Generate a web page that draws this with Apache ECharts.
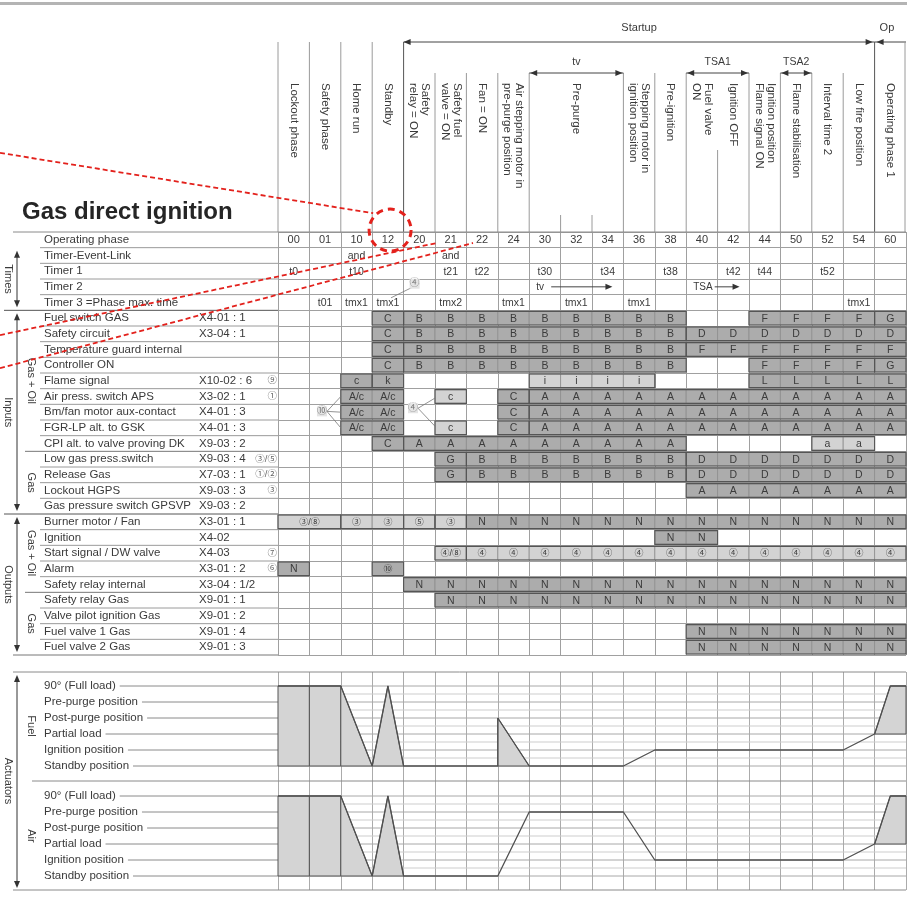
<!DOCTYPE html>
<html>
<head>
<meta charset="utf-8">
<title>Gas direct ignition</title>
<script src="https://cdn.jsdelivr.net/npm/echarts@6.0.0/dist/echarts.min.js"></script>
<style>
  html, body { margin: 0; padding: 0; background: #fff; }
  #chart4 { width: 907px; height: 900px; }
</style>
</head>
<body>
<div id="chart4"></div>
<script>
/* Phase diagram: gas direct ignition */

var FONT = '"Liberation Sans", Arial, "Noto Sans CJK SC", sans-serif';
var TXT = '#3a3a3a';

// columns = operating phases
var phases = ['00', '01', '10', '12', '20', '21', '22', '24', '30', '32', '34', '36', '38', '40', '42', '44', '50', '52', '54', '60'];

// [from col, to col, header text]
var phaseTitles = [
    [0, 1, 'Lockout phase'],
    [1, 2, 'Safety phase'],
    [2, 3, 'Home run'],
    [3, 4, 'Standby'],
    [4, 5, 'Safety\nrelay = ON'],
    [5, 6, 'Safety fuel\nvalve = ON'],
    [6, 7, 'Fan = ON'],
    [7, 8, 'Air stepping motor in\npre-purge position'],
    [8, 11, 'Pre-purge'],
    [11, 12, 'Stepping motor in\nignition position'],
    [12, 13, 'Pre-ignition'],
    [13, 14, 'Fuel valve\nON'],
    [14, 15, 'Ignition OFF'],
    [15, 16, 'Ignition position\nFlame signal ON'],
    [16, 17, 'Flame stabilisation'],
    [17, 18, 'Interval time 2'],
    [18, 19, 'Low fire position'],
    [19, 20, 'Operating phase 1']
];

// time spans above the headers [from col, to col, label]
var phaseSpans = [[8, 11, 'tv'], [13, 15, 'TSA1'], [16, 17, 'TSA2']];

var rowNames = ['Operating phase', 'Timer-Event-Link', 'Timer 1', 'Timer 2', 'Timer 3 =Phase max. time',
    'Fuel switch GAS', 'Safety circuit', 'Temperature guard internal', 'Controller ON', 'Flame signal',
    'Air press. switch APS', 'Bm/fan motor aux-contact', 'FGR-LP alt. to GSK', 'CPI alt. to valve proving DK',
    'Low gas press.switch', 'Release Gas', 'Lockout HGPS', 'Gas pressure switch GPSVP',
    'Burner motor / Fan', 'Ignition', 'Start signal / DW valve', 'Alarm', 'Safety relay internal',
    'Safety relay Gas', 'Valve pilot ignition Gas', 'Fuel valve 1 Gas', 'Fuel valve 2 Gas'];
var rowCodes = ['', '', '', '', '', 'X4-01 : 1', 'X3-04 : 1', '', '', 'X10-02 : 6', 'X3-02 : 1', 'X4-01 : 3',
    'X4-01 : 3', 'X9-03 : 2', 'X9-03 : 4', 'X7-03 : 1', 'X9-03 : 3', 'X9-03 : 2', 'X3-01 : 1', 'X4-02',
    'X4-03', 'X3-01 : 2', 'X3-04 : 1/2', 'X9-01 : 1', 'X9-01 : 2', 'X9-01 : 4', 'X9-01 : 3'];
var rowNotes = ['', '', '', '', '', '', '', '', '', '⑨', '①', '', '', '', '③/⑤', '①/②', '③', '',
    '', '', '⑦', '⑥', '', '', '', '', ''];

// [row from, row to, label, inner?]
var sections = [[1, 5, 'Times', 0], [5, 18, 'Inputs', 0], [5, 14, 'Gas + Oil', 1], [14, 18, 'Gas', 1],
    [18, 27, 'Outputs', 0], [18, 23, 'Gas + Oil', 1], [23, 27, 'Gas', 1]];

// timer rows [col, text]
var timerLink = [[2, 'and'], [5, 'and']];
var timer1 = [[0, 't0'], [2, 't10'], [5, 't21'], [6, 't22'], [8, 't30'], [10, 't34'], [12, 't38'], [14, 't42'], [15, 't44'], [17, 't52']];
var timer3 = [[1, 't01'], [2, 'tmx1'], [3, 'tmx1'], [5, 'tmx2'], [7, 'tmx1'], [9, 'tmx1'], [11, 'tmx1'], [18, 'tmx1']];
var timer2 = [[8, 10.65, 'tv'], [13, 14.7, 'TSA']];

// circled references with leader lines [col, row, text, targets]
var leaders = [
    [1.4, 11.45, '⑩', [[2, 10.5], [2, 11.5], [2, 12.5]]],
    [4.3, 11.25, '④', [[5, 10.6], [5, 12.4]]],
    [4.35, 3.3, '④', [[3.6, 4.2]]]
];

// signal states from row 5 on: [from col, to col, text, light shade, merged]
var signals = [
    [[3, 3, 'C', 0], [4, 12, 'B', 0], [15, 18, 'F', 0], [19, 19, 'G', 0]],
    [[3, 3, 'C', 0], [4, 12, 'B', 0], [13, 19, 'D', 0]],
    [[3, 3, 'C', 0], [4, 12, 'B', 0], [13, 19, 'F', 0]],
    [[3, 3, 'C', 0], [4, 12, 'B', 0], [15, 18, 'F', 0], [19, 19, 'G', 0]],
    [[2, 2, 'c', 0], [3, 3, 'k', 0], [8, 11, 'i', 1], [15, 19, 'L', 0]],
    [[2, 3, 'A/c', 0], [5, 5, 'c', 1], [7, 7, 'C', 0], [8, 19, 'A', 0]],
    [[2, 3, 'A/c', 0], [7, 7, 'C', 0], [8, 19, 'A', 0]],
    [[2, 3, 'A/c', 0], [5, 5, 'c', 1], [7, 7, 'C', 0], [8, 19, 'A', 0]],
    [[3, 3, 'C', 0], [4, 12, 'A', 0], [17, 18, 'a', 1]],
    [[5, 5, 'G', 0], [6, 12, 'B', 0], [13, 19, 'D', 0]],
    [[5, 5, 'G', 0], [6, 12, 'B', 0], [13, 19, 'D', 0]],
    [[13, 19, 'A', 0]],
    [],
    [[0, 1, '③/⑧', 1, 1], [2, 3, '③', 1], [4, 4, '⑤', 1], [5, 5, '③', 1], [6, 19, 'N', 0]],
    [[12, 13, 'N', 0]],
    [[5, 5, '④/⑧', 1], [6, 19, '④', 1]],
    [[0, 0, 'N', 0], [3, 3, '⑩', 0]],
    [[4, 19, 'N', 0]],
    [[5, 19, 'N', 0]],
    [],
    [[13, 19, 'N', 0]],
    [[13, 19, 'N', 0]]
];

// actuator positions, 0 = standby ... 5 = full load
var levelNames = ['Standby position', 'Ignition position', 'Partial load', 'Post-purge position', 'Pre-purge position', '90° (Full load)'];
var fuelProfile = [[0, 5], [2, 5], [3, 0], [3.5, 5], [4, 0], [7, 0], [7, 3], [8, 0], [11, 0], [12, 1], [18, 1], [19, 2], [19.5, 5], [20, 5]];
var airProfile = [[0, 5], [2, 5], [3, 0], [3.5, 5], [4, 0], [7, 0], [8, 4], [11, 4], [12, 1], [18, 1], [19, 2], [19.5, 5], [20, 5]];
var fuelFills = [
    [[0, 0], [0, 5], [1, 5], [1, 0]], [[1, 0], [1, 5], [2, 5], [2, 0]],
    [[2, 0], [2, 5], [3, 0]], [[3, 0], [3.5, 5], [4, 0]],
    [[7, 0], [7, 3], [8, 0]],
    [[19, 2], [19.5, 5], [20, 5], [20, 2]]
];
var airFills = [
    [[0, 0], [0, 5], [1, 5], [1, 0]], [[1, 0], [1, 5], [2, 5], [2, 0]],
    [[2, 0], [2, 5], [3, 0]], [[3, 0], [3.5, 5], [4, 0]],
    [[19, 2], [19.5, 5], [20, 5], [20, 2]]
];
var fuelOffset = 6.875;   // fuel block sits above the air block on the same axis

// red call-out marks (table coordinates)
var calloutCircle = [3.57, -0.12];
var calloutLines = [[[-8.85, -5.05], [3.03, -1.2]], [[-8.85, 6.58], [5.06, 0.7]], [[-8.85, 8.69], [6.21, 0.7]]];

/* ---------- helpers ---------- */

function txt(x, y, s, align, size, extra) {
    var st = {
        text: s, x: 0, y: 0, align: align || 'center', verticalAlign: 'middle',
        fontSize: size || 11, fontFamily: FONT, fill: TXT
    };
    if (extra) for (var k in extra) st[k] = extra[k];
    return { type: 'text', x: x, y: y, style: st };
}
function vtxt(x, y, s, size, align) {
    var t = txt(x, y, s, align || 'center', size || 11);
    t.rotation = -Math.PI / 2;
    return t;
}
function seg(x1, y1, x2, y2, color, w, dash) {
    return {
        type: 'line', shape: { x1: x1, y1: y1, x2: x2, y2: y2 },
        style: { stroke: color || '#999', lineWidth: w || 1, lineDash: dash || null }
    };
}
function head(x, y, dir, vertical) {
    var p = vertical
        ? [[x, y], [x - 3, y - dir * 7], [x + 3, y - dir * 7]]
        : [[x, y], [x - dir * 7, y - 3], [x - dir * 7, y + 3]];
    return { type: 'polygon', shape: { points: p }, style: { fill: '#333' } };
}
function bracket(ch, x, ya, yb) {
    ch.push(seg(x, ya + 4, x, yb - 4, '#333', 1));
    ch.push(head(x, ya, -1, true));
    ch.push(head(x, yb, 1, true));
}

/* ---------- derived data ---------- */

var cellData = [], runData = [];
signals.forEach(function (segs, i) {
    var row = i + 5;
    segs.forEach(function (s) {
        if (s[4]) {
            cellData.push([s[0], s[1] + 1, row, s[2], s[3]]);
        } else {
            for (var c = s[0]; c <= s[1]; c++) cellData.push([c, c + 1, row, s[2], s[3]]);
        }
        runData.push([s[0], s[1] + 1, row]);
    });
});

var tableTexts = [];
phases.forEach(function (p, i) { tableTexts.push([i, 0, p]); });
timerLink.forEach(function (t) { tableTexts.push([t[0], 1, t[1]]); });
timer1.forEach(function (t) { tableTexts.push([t[0], 2, t[1]]); });
timer3.forEach(function (t) { tableTexts.push([t[0], 4, t[1]]); });

var actShapes = [];
fuelFills.forEach(function (p) { actShapes.push(p.map(function (q) { return [q[0], q[1] + fuelOffset]; })); });
airFills.forEach(function (p) { actShapes.push(p); });

/* ---------- render functions ---------- */

function renderHeader(params, api) {
    var X = function (c) { return api.coord([c, 0])[0]; };
    var yTop = api.coord([0, 0])[1];
    var ch = [];
    ch.push({ type: 'rect', shape: { x: 0, y: 2, width: 907, height: 3 }, style: { fill: '#b4b4b4' } });

    // start-up span
    var ya = 42, yb = 73;
    ch.push(seg(X(4), ya, X(19), ya, '#444'));
    ch.push(head(X(4), ya, -1));
    ch.push(head(X(19) - 2, ya, 1));
    ch.push(txt((X(4) + X(19)) / 2, 28, 'Startup', 'center', 11));
    ch.push(seg(X(19), ya, X(20), ya, '#444'));
    ch.push(head(X(19) + 2, ya, -1));
    ch.push(txt(X(19) + 5, 28, 'Op', 'left', 11));

    // column separators of the header
    var tops = [42, 42, 42, 42, 42, 73, 73, 73, 73, 215, 215, 73, 73, 73, 150, 73, 73, 73, 73, 42, 42];
    for (var c = 0; c <= 20; c++) {
        var dark = (c === 4 || c === 19);
        var x = c === 20 ? X(c) - 1 : X(c);
        ch.push(seg(x, tops[c], x, yTop, dark ? '#555' : '#9a9a9a', 1));
    }

    phaseSpans.forEach(function (s) {
        var x1 = X(s[0]), x2 = X(s[1]);
        ch.push(seg(x1, yb, x2, yb, '#444'));
        ch.push(head(x1 + 1, yb, -1));
        ch.push(head(x2 - 1, yb, 1));
        ch.push(txt((x1 + x2) / 2, 62, s[2], 'center', 10.5));
    });

    phaseTitles.forEach(function (t) {
        var cx = (X(t[0]) + X(t[1])) / 2;
        var el = vtxt(cx, 83, t[2], 11.5, 'left');
        el.style.lineHeight = 12;
        ch.push(el);
    });
    return { type: 'group', children: ch };
}

function renderFrame(params, api) {
    var Y = function (r) { return api.coord([0, r])[1]; };
    var x0 = api.coord([0, 0])[0], x1 = api.coord([20, 0])[0];
    var ch = [];
    ch.push(txt(22, 212, 'Gas direct ignition', 'left', 24, { fontWeight: 'bold', fill: '#252525' }));
    ch.push(seg(13, Y(0), x1, Y(0), '#8a8a8a'));
    ch.push(seg(4, Y(5), x0, Y(5), '#555'));
    ch.push(seg(4, Y(18), x0, Y(18), '#555'));
    ch.push(seg(25, Y(14), x0, Y(14), '#777'));
    ch.push(seg(25, Y(23), x0, Y(23), '#777'));
    ch.push(seg(13, Y(27), x0, Y(27), '#777'));
    bracket(ch, 17, Y(1) + 3, Y(5) - 3);
    bracket(ch, 17, Y(5) + 3, Y(18) - 3);
    bracket(ch, 17, Y(18) + 3, Y(27) - 3);
    sections.forEach(function (s) {
        var el = vtxt(s[3] ? 31 : 8, (Y(s[0]) + Y(s[1])) / 2, s[2], 11);
        el.style.backgroundColor = s[3] ? '#fff' : null;
        ch.push(el);
    });
    return { type: 'group', children: ch };
}

function renderRowLabel(params, api) {
    var i = params.dataIndex;
    var ya = api.coord([0, i])[1], yb = api.coord([0, i + 1])[1];
    var x0 = api.coord([0, 0])[0];
    var ym = (ya + yb) / 2;
    var ch = [];
    if (i < 26 && i !== 4 && i !== 13 && i !== 17 && i !== 22) ch.push(seg(40, yb, x0, yb, '#9a9a9a'));
    ch.push(txt(44, ym, rowNames[i], 'left', 11.5));
    if (rowCodes[i]) ch.push(txt(199, ym, rowCodes[i], 'left', 11.5));
    if (rowNotes[i]) ch.push(txt(277, ym, rowNotes[i], 'right', 9.5, { fill: '#666' }));
    return { type: 'group', children: ch };
}

function renderCell(params, api) {
    var d = cellData[params.dataIndex];
    var p0 = api.coord([d[0], d[2]]);
    var p1 = api.coord([d[1], d[2] + 1]);
    var circled = /[①-⑩]/.test(d[3]);
    return {
        type: 'group',
        children: [
            {
                type: 'rect',
                shape: { x: p0[0], y: p0[1] + 1, width: p1[0] - p0[0], height: p1[1] - p0[1] - 2 },
                style: { fill: d[4] ? '#d3d3d3' : '#acacac', stroke: '#8e8e8e', lineWidth: 0.8 }
            },
            txt((p0[0] + p1[0]) / 2, (p0[1] + p1[1]) / 2 + 0.5, d[3], 'center', circled ? 9 : 10.5, { fill: '#3c3c3c' })
        ]
    };
}

function renderRun(params, api) {
    var d = runData[params.dataIndex];
    var p0 = api.coord([d[0], d[2]]);
    var p1 = api.coord([d[1], d[2] + 1]);
    return {
        type: 'rect',
        shape: { x: p0[0], y: p0[1] + 1, width: p1[0] - p0[0], height: p1[1] - p0[1] - 2 },
        style: { fill: null, stroke: '#555', lineWidth: 1.1 }
    };
}

function renderTableText(params, api) {
    var d = tableTexts[params.dataIndex];
    var p = api.coord([d[0] + 0.5, d[1] + 0.5]);
    return txt(p[0], p[1] + 0.5, d[2], 'center', d[1] === 0 ? 11 : 10.5);
}

function renderMarks(params, api) {
    var P = function (c, r) { return api.coord([c, r]); };
    var ch = [];
    timer2.forEach(function (t) {
        var a = P(t[0], 3.5), b = P(t[1], 3.5);
        var tx = a[0] + 7;
        ch.push(txt(tx, a[1], t[2], 'left', 10));
        var lx = tx + t[2].length * 6.5 + 2;
        ch.push(seg(lx, a[1], b[0] - 3, a[1], '#444'));
        ch.push(head(b[0], a[1], 1));
    });
    leaders.forEach(function (l) {
        var c = P(l[0], l[1]);
        l[3].forEach(function (tg) {
            var p = P(tg[0], tg[1]);
            ch.push(seg(c[0] + 5, c[1], p[0], p[1], '#777', 0.8));
        });
        ch.push(txt(c[0], c[1], l[2], 'center', 10, { fill: '#777', backgroundColor: '#e4e4e4' }));
    });
    return { type: 'group', children: ch };
}

function renderCallout(params, api) {
    var red = '#e3211c';
    var ch = [];
    var c = api.coord(calloutCircle);
    calloutLines.forEach(function (l) {
        var a = api.coord(l[0]), b = api.coord(l[1]);
        ch.push(seg(0, a[1], b[0], b[1], red, 1.8, [5, 3]));
    });
    ch.push({ type: 'circle', shape: { cx: c[0], cy: c[1], r: 21 }, style: { fill: null, stroke: red, lineWidth: 3, lineDash: [7, 5] } });
    return { type: 'group', children: ch };
}

function renderActFrame(params, api) {
    var X = function (c) { return api.coord([c, 0])[0]; };
    var Y = function (v) { return api.coord([0, v])[1]; };
    var x0 = X(0), x1 = X(20);
    var ch = [];
    [0, fuelOffset].forEach(function (off) {
        for (var h = 0.5; h < 5; h += 1) ch.push(seg(x0, Y(off + h), x1, Y(off + h), '#cdcdcd'));
    });
    [fuelOffset, 0].forEach(function (off) {
        levelNames.forEach(function (n, l) {
            var y = Y(off + l);
            ch.push(seg(44, y, x0, y, '#8a8a8a'));
            ch.push(seg(x0, y, x1, y, '#a8a8a8'));
            ch.push(txt(44, y, n, 'left', 11.5, { backgroundColor: '#fff', padding: [0, 4, 0, 0] }));
        });
    });
    var yt = Y(12.75), ys = Y(5.9375), yb = Y(-0.875);
    ch.push(seg(13, yt, x1, yt, '#8a8a8a'));
    ch.push(seg(32, ys, x1, ys, '#8a8a8a'));
    ch.push(seg(13, yb, x1, yb, '#8a8a8a'));
    bracket(ch, 17, yt + 3, yb - 2);
    var fuelMid = (Y(fuelOffset) + Y(fuelOffset + 5)) / 2, airMid = (Y(0) + Y(5)) / 2;
    var e1 = vtxt(31, fuelMid, 'Fuel', 11); e1.style.backgroundColor = '#fff';
    var e2 = vtxt(31, airMid, 'Air', 11); e2.style.backgroundColor = '#fff';
    ch.push(e1, e2, vtxt(8, (yt + yb) / 2, 'Actuators', 11));
    return { type: 'group', children: ch };
}

function renderFill(params, api) {
    var pts = actShapes[params.dataIndex].map(function (q) { return api.coord(q); });
    return { type: 'polygon', shape: { points: pts }, style: { fill: '#d4d4d4', stroke: '#555', lineWidth: 1 } };
}

/* ---------- chart ---------- */

var mychart = echarts.init(document.getElementById('chart4'));

var axisBase = { axisLine: { show: false }, axisTick: { show: false }, axisLabel: { show: false } };

var option = {
    animation: false,
    backgroundColor: '#fff',
    grid: [
        { left: 278, top: 232, width: 628, height: 423, outerBoundsMode: 'none' },
        { left: 278, top: 672, width: 628, height: 218, outerBoundsMode: 'none' }
    ],
    xAxis: [
        Object.assign({ gridIndex: 0, type: 'value', min: 0, max: 20, interval: 1,
            splitLine: { show: true, lineStyle: { color: '#a0a0a0', width: 1 } } }, axisBase),
        Object.assign({ gridIndex: 1, type: 'value', min: 0, max: 20, interval: 1,
            splitLine: { show: true, lineStyle: { color: '#ababab', width: 1 } } }, axisBase)
    ],
    yAxis: [
        Object.assign({ gridIndex: 0, type: 'value', min: 0, max: 27, interval: 1, inverse: true,
            splitLine: { show: true, lineStyle: { color: '#a0a0a0', width: 1 } } }, axisBase),
        Object.assign({ gridIndex: 1, type: 'value', min: -0.875, max: 12.75,
            splitLine: { show: false } }, axisBase)
    ],
    series: [
        { type: 'custom', name: 'header', xAxisIndex: 0, yAxisIndex: 0, clip: false, silent: true, z: 2,
            data: [[0, 0]], renderItem: renderHeader },
        { type: 'custom', name: 'frame', xAxisIndex: 0, yAxisIndex: 0, clip: false, silent: true, z: 2,
            data: [[0, 0]], renderItem: renderFrame },
        { type: 'custom', name: 'rows', xAxisIndex: 0, yAxisIndex: 0, clip: false, silent: true, z: 2,
            data: rowNames.map(function (n, i) { return [0, i + 0.5]; }), renderItem: renderRowLabel },
        { type: 'custom', name: 'cells', xAxisIndex: 0, yAxisIndex: 0, clip: false, silent: true, z: 3,
            data: cellData.map(function (d) { return [d[0], d[2]]; }), renderItem: renderCell },
        { type: 'custom', name: 'runs', xAxisIndex: 0, yAxisIndex: 0, clip: false, silent: true, z: 4,
            data: runData.map(function (d) { return [d[0], d[2]]; }), renderItem: renderRun },
        { type: 'custom', name: 'texts', xAxisIndex: 0, yAxisIndex: 0, clip: false, silent: true, z: 4,
            data: tableTexts.map(function (d) { return [d[0], d[1]]; }), renderItem: renderTableText },
        { type: 'custom', name: 'marks', xAxisIndex: 0, yAxisIndex: 0, clip: false, silent: true, z: 5,
            data: [[0, 0]], renderItem: renderMarks },
        { type: 'custom', name: 'actFrame', xAxisIndex: 1, yAxisIndex: 1, clip: false, silent: true, z: 2,
            data: [[0, 0]], renderItem: renderActFrame },
        { type: 'custom', name: 'actFill', xAxisIndex: 1, yAxisIndex: 1, clip: false, silent: true, z: 3,
            data: actShapes.map(function (p) { return p[0]; }), renderItem: renderFill },
        { type: 'line', name: 'Fuel', xAxisIndex: 1, yAxisIndex: 1, silent: true, z: 5, symbol: 'none',
            lineStyle: { color: '#505050', width: 1.3 },
            data: fuelProfile.map(function (p) { return [p[0], p[1] + fuelOffset]; }) },
        { type: 'line', name: 'Air', xAxisIndex: 1, yAxisIndex: 1, silent: true, z: 5, symbol: 'none',
            lineStyle: { color: '#505050', width: 1.3 },
            data: airProfile },
        { type: 'custom', name: 'callout', xAxisIndex: 0, yAxisIndex: 0, clip: false, silent: true, z: 20,
            data: [[0, 0]], renderItem: renderCallout }
    ]
};

mychart.setOption(option);
</script>
</body>
</html>
